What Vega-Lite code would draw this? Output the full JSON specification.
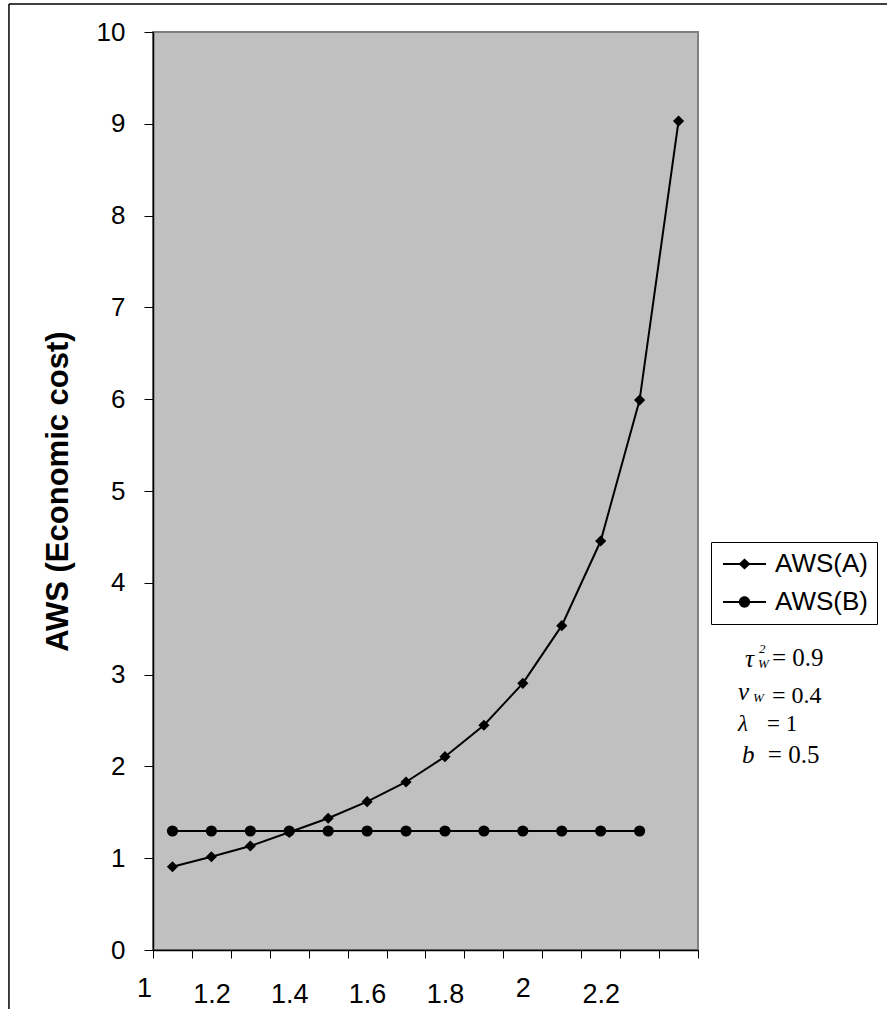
{
  "$schema": "https://vega.github.io/schema/vega-lite/v6.json",
  "width": 545,
  "height": 918,
  "autosize": {"type": "none"},
  "padding": {"left": 153, "top": 32, "right": 189, "bottom": 59},
  "background": "white",
  "config": {
    "view": {"fill": "#C0C0C0", "stroke": "#808080", "strokeWidth": 2},
    "font": "Liberation Sans"
  },
  "datasets": {
    "aws": [
      {"series": "AWS(A)", "x": 1.1, "y": 0.907},
      {"series": "AWS(A)", "x": 1.2, "y": 1.016},
      {"series": "AWS(A)", "x": 1.3, "y": 1.133},
      {"series": "AWS(A)", "x": 1.4, "y": 1.282},
      {"series": "AWS(A)", "x": 1.5, "y": 1.435},
      {"series": "AWS(A)", "x": 1.6, "y": 1.616},
      {"series": "AWS(A)", "x": 1.7, "y": 1.83},
      {"series": "AWS(A)", "x": 1.8, "y": 2.106},
      {"series": "AWS(A)", "x": 1.9, "y": 2.448},
      {"series": "AWS(A)", "x": 2.0, "y": 2.905},
      {"series": "AWS(A)", "x": 2.1, "y": 3.533},
      {"series": "AWS(A)", "x": 2.2, "y": 4.455},
      {"series": "AWS(A)", "x": 2.3, "y": 5.99},
      {"series": "AWS(A)", "x": 2.4, "y": 9.03},
      {"series": "AWS(B)", "x": 1.1, "y": 1.296},
      {"series": "AWS(B)", "x": 1.2, "y": 1.296},
      {"series": "AWS(B)", "x": 1.3, "y": 1.296},
      {"series": "AWS(B)", "x": 1.4, "y": 1.296},
      {"series": "AWS(B)", "x": 1.5, "y": 1.296},
      {"series": "AWS(B)", "x": 1.6, "y": 1.296},
      {"series": "AWS(B)", "x": 1.7, "y": 1.296},
      {"series": "AWS(B)", "x": 1.8, "y": 1.296},
      {"series": "AWS(B)", "x": 1.9, "y": 1.296},
      {"series": "AWS(B)", "x": 2.0, "y": 1.296},
      {"series": "AWS(B)", "x": 2.1, "y": 1.296},
      {"series": "AWS(B)", "x": 2.2, "y": 1.296},
      {"series": "AWS(B)", "x": 2.3, "y": 1.296}
    ]
  },
  "data": {"name": "aws"},
  "layer": [
    {
      "mark": {"type": "line", "color": "black", "strokeWidth": 2},
      "encoding": {
        "x": {
          "field": "x", "type": "quantitative",
          "scale": {"domain": [1.05, 2.45], "nice": false, "zero": false},
          "axis": {
            "orient": "bottom",
            "values": [1.05, 1.15, 1.25, 1.35, 1.45, 1.55, 1.65, 1.75, 1.85, 1.95, 2.05, 2.15, 2.25, 2.35, 2.45],
            "labels": false, "ticks": true, "tickSize": 8, "tickColor": "black", "tickWidth": 1,
            "domainColor": "black", "domainWidth": 1.5, "grid": false, "title": null
          }
        },
        "y": {
          "field": "y", "type": "quantitative",
          "scale": {"domain": [0, 10], "nice": false, "zero": false},
          "axis": {
            "orient": "left",
            "values": [0, 1, 2, 3, 4, 5, 6, 7, 8, 9, 10],
            "tickSize": 9, "tickColor": "black", "domainColor": "black", "domainWidth": 1.5, "grid": false,
            "labelFontSize": 26, "labelColor": "black", "labelPadding": 19, "labelFont": "Liberation Sans",
            "title": "AWS (Economic cost)", "titleFont": "Liberation Sans", "titleFontSize": 31,
            "titleFontWeight": "bold", "titleColor": "black", "titlePadding": 22
          }
        },
        "detail": {"field": "series"}
      }
    },
    {
      "mark": {"type": "point", "filled": true, "color": "black", "size": 125, "opacity": 1},
      "encoding": {
        "x": {
          "field": "x", "type": "quantitative",
          "axis": {
            "orient": "bottom",
            "values": [1.05, 1.2, 1.4, 1.6, 1.8, 2.0, 2.2],
            "ticks": false, "tickSize": 0, "domain": false, "grid": false, "title": null,
            "labelFontSize": 27, "labelColor": "black", "labelFont": "Liberation Sans", "labelOverlap": false,
            "labelFlush": false,
            "labelExpr": "datum.value < 1.1 ? '1' : abs(datum.value - 2) < 0.01 ? '2' : format(datum.value, '.1f')",
            "labelOffset": {"condition": {"test": "datum.value < 1.1", "value": -9}, "value": 0},
            "labelPadding": {"condition": {"test": "datum.value < 1.1 || abs(datum.value - 2) < 0.01", "value": 25}, "value": 31}
          }
        },
        "y": {"field": "y", "type": "quantitative", "axis": null},
        "shape": {
          "field": "series", "type": "nominal",
          "scale": {"domain": ["AWS(A)", "AWS(B)"], "range": ["diamond", "circle"]},
          "legend": null
        }
      }
    },
    {
      "transform": [{"filter": "datum.x > 100"}],
      "mark": {"type": "point", "filled": true, "color": "black", "opacity": 1},
      "encoding": {
        "x": {"field": "x", "type": "quantitative", "axis": null},
        "y": {"field": "y", "type": "quantitative", "axis": null},
        "shape": {
          "field": "series", "type": "nominal",
          "scale": {
            "domain": ["AWS(A)", "AWS(B)"],
            "range": [
              "M-0.833,-0.085L2.75,-0.085L2.75,0.085L-0.833,0.085ZM0.458,0L0.958,-0.46L1.458,0L0.958,0.46Z",
              "M-0.833,-0.085L2.75,-0.085L2.75,0.085L-0.833,0.085ZM1.428,0A0.47,0.47,0,1,1,0.488,0A0.47,0.47,0,1,1,1.428,0Z"
            ]
          },
          "legend": {
            "title": null, "orient": "none", "legendX": 558, "legendY": 510,
            "symbolSize": 576, "symbolStrokeWidth": 0, "symbolFillColor": "black",
            "symbolOpacity": 1,
            "labelFontSize": 26, "labelFont": "Liberation Sans", "labelColor": "black", "labelOffset": 29,
            "padding": 9, "rowPadding": 12, "strokeColor": "black", "fillColor": "white", "cornerRadius": 0
          }
        }
      }
    },
    {
      "data": {"values": [{}]},
      "mark": {"type": "rule", "color": "black", "strokeWidth": 1.5},
      "encoding": {
        "x": {"datum": 0.68, "type": "quantitative", "axis": null},
        "y": {"datum": 10.305, "type": "quantitative", "axis": null},
        "y2": {"datum": -0.8}
      }
    },
    {
      "data": {"values": [{}]},
      "mark": {"type": "rule", "color": "black", "strokeWidth": 1.5},
      "encoding": {
        "x": {"datum": 0.68, "type": "quantitative", "axis": null},
        "x2": {"datum": 2.96},
        "y": {"datum": 10.305, "type": "quantitative", "axis": null}
      }
    },
    {
      "data": {"values": [{}]},
      "mark": {"type": "text", "text": "τ", "font": "Liberation Serif", "fontStyle": "italic", "fontSize": 25, "align": "left", "baseline": "alphabetic", "color": "black"},
      "encoding": {"x": {"datum": 2.5707, "type": "quantitative", "axis": null}, "y": {"datum": 3.083, "type": "quantitative", "axis": null}}
    },
    {
      "data": {"values": [{}]},
      "mark": {"type": "text", "text": "2", "font": "Liberation Serif", "fontStyle": "italic", "fontSize": 13, "align": "left", "baseline": "alphabetic", "color": "black"},
      "encoding": {"x": {"datum": 2.6066, "type": "quantitative", "axis": null}, "y": {"datum": 3.235, "type": "quantitative", "axis": null}}
    },
    {
      "data": {"values": [{}]},
      "mark": {"type": "text", "text": "W", "font": "Liberation Serif", "fontStyle": "italic", "fontSize": 13, "align": "left", "baseline": "alphabetic", "color": "black"},
      "encoding": {"x": {"datum": 2.6041, "type": "quantitative", "axis": null}, "y": {"datum": 3.072, "type": "quantitative", "axis": null}}
    },
    {
      "data": {"values": [{}]},
      "mark": {"type": "text", "text": "= 0.9", "font": "Liberation Serif", "fontSize": 25, "align": "left", "baseline": "alphabetic", "color": "black"},
      "encoding": {"x": {"datum": 2.64, "type": "quantitative", "axis": null}, "y": {"datum": 3.094, "type": "quantitative", "axis": null}}
    },
    {
      "data": {"values": [{}]},
      "mark": {"type": "text", "text": "v", "font": "Liberation Serif", "fontStyle": "italic", "fontSize": 25, "align": "left", "baseline": "alphabetic", "color": "black"},
      "encoding": {"x": {"datum": 2.5527, "type": "quantitative", "axis": null}, "y": {"datum": 2.72, "type": "quantitative", "axis": null}}
    },
    {
      "data": {"values": [{}]},
      "mark": {"type": "text", "text": "W", "font": "Liberation Serif", "fontStyle": "italic", "fontSize": 13, "align": "left", "baseline": "alphabetic", "color": "black"},
      "encoding": {"x": {"datum": 2.5912, "type": "quantitative", "axis": null}, "y": {"datum": 2.705, "type": "quantitative", "axis": null}}
    },
    {
      "data": {"values": [{}]},
      "mark": {"type": "text", "text": "= 0.4", "font": "Liberation Serif", "fontSize": 24, "align": "left", "baseline": "alphabetic", "color": "black"},
      "encoding": {"x": {"datum": 2.64, "type": "quantitative", "axis": null}, "y": {"datum": 2.69, "type": "quantitative", "axis": null}}
    },
    {
      "data": {"values": [{}]},
      "mark": {"type": "text", "text": "λ", "font": "Liberation Serif", "fontStyle": "italic", "fontSize": 23, "align": "left", "baseline": "alphabetic", "color": "black"},
      "encoding": {"x": {"datum": 2.5527, "type": "quantitative", "axis": null}, "y": {"datum": 2.385, "type": "quantitative", "axis": null}}
    },
    {
      "data": {"values": [{}]},
      "mark": {"type": "text", "text": "= 1", "font": "Liberation Serif", "fontSize": 23, "align": "left", "baseline": "alphabetic", "color": "black"},
      "encoding": {"x": {"datum": 2.6272, "type": "quantitative", "axis": null}, "y": {"datum": 2.385, "type": "quantitative", "axis": null}}
    },
    {
      "data": {"values": [{}]},
      "mark": {"type": "text", "text": "b", "font": "Liberation Serif", "fontStyle": "italic", "fontSize": 25, "align": "left", "baseline": "alphabetic", "color": "black"},
      "encoding": {"x": {"datum": 2.563, "type": "quantitative", "axis": null}, "y": {"datum": 2.04, "type": "quantitative", "axis": null}}
    },
    {
      "data": {"values": [{}]},
      "mark": {"type": "text", "text": "= 0.5", "font": "Liberation Serif", "fontSize": 25, "align": "left", "baseline": "alphabetic", "color": "black"},
      "encoding": {"x": {"datum": 2.6294, "type": "quantitative", "axis": null}, "y": {"datum": 2.035, "type": "quantitative", "axis": null}}
    }
  ],
  "resolve": {
    "scale": {"shape": "independent"},
    "axis": {"x": "independent", "y": "independent"},
    "legend": {"shape": "independent"}
  }
}
